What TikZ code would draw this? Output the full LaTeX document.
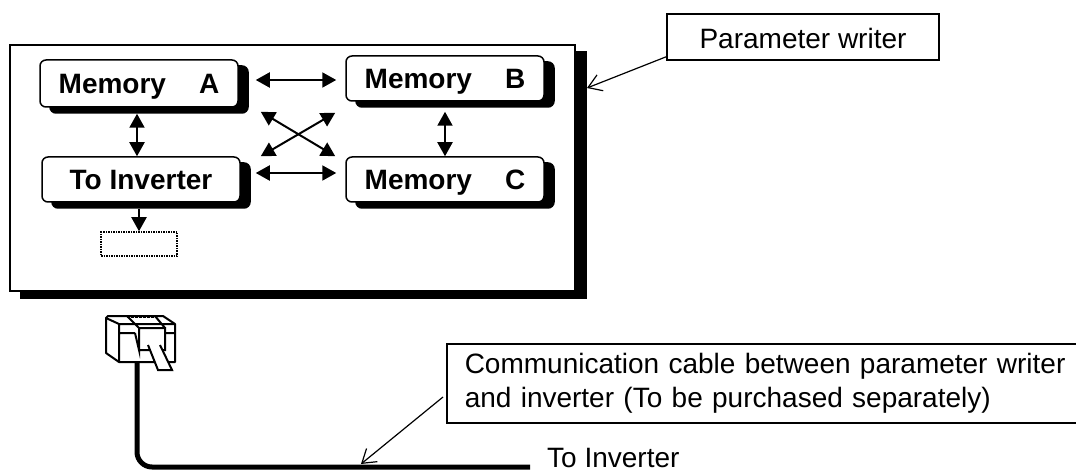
\documentclass[tikz,border=0pt]{standalone}
\usepackage{fontspec}
\setmainfont{Liberation Sans}
\usetikzlibrary{arrows.meta,shadows}
\begin{document}
\begin{tikzpicture}[x=1pt,y=-1pt,
	>={Stealth[length=14pt,width=15pt,inset=0pt]},
	bigbox/.style={draw,line width=1.5pt,fill=white,inner sep=0pt,copy shadow={shadow xshift=11pt,shadow yshift=-7pt,fill=black,draw=black}},
	membox/.style={draw,line width=1.5pt,rounded corners=6pt,fill=white,inner sep=0pt,minimum width=198pt,text height=20pt,text depth=0pt,font=\fontsize{28}{30}\selectfont\bfseries,copy shadow={shadow xshift=10pt,shadow yshift=-6pt,fill=black,draw=black}},
	notebox/.style={draw,line width=1.5pt,fill=white,font=\fontsize{28}{34}\selectfont},
	linkarrow/.style={<->,line width=2pt},
	leader/.style={-{Straight Barb[length=13pt,width=17pt]},line width=1.2pt}]
	\useasboundingbox (0,0) rectangle (1076,473);
	\node[bigbox,minimum width=565pt,minimum height=246pt] (writer) at (292.5,168) {};
	\node[membox,minimum height=47pt] (memA) at (139,83.5) {Memory\hspace{33pt}A};
	\node[membox,minimum height=45pt] (memB) at (445,78.5) {Memory\hspace{33pt}B\hspace{6pt}};
	\node[membox,minimum height=45pt] (memC) at (445,179.5) {Memory\hspace{33pt}C\hspace{6pt}};
	\node[membox,minimum height=45pt] (toinv) at (141,179.5) {To Inverter};
	\node[draw,densely dotted,line width=1.5pt,inner sep=0pt,minimum width=76pt,minimum height=24pt] (slot) at (139,244) {};
	\draw[linkarrow] ([xshift=17pt,yshift=3.5pt]memA.east) -- ([xshift=-9pt,yshift=-1.5pt]memB.west);
	\draw[linkarrow] ([xshift=15pt,yshift=6.5pt]toinv.east) -- ([xshift=-9pt,yshift=6.5pt]memC.west);
	\draw[linkarrow] ([xshift=22pt,yshift=-4pt]memA.south east) -- ([xshift=-10pt]memC.north west);
	\draw[linkarrow] ([xshift=20pt]toinv.north east) -- ([xshift=-10pt,yshift=-11pt]memB.south west);
	\draw[linkarrow] ([xshift=-2pt,yshift=-6pt]memA.south) -- ([xshift=-4pt]toinv.north);
	\draw[linkarrow] ([yshift=-10pt]memB.south) -- (memC.north);
	\draw[->,line width=2pt] ([xshift=-2pt,yshift=-6pt]toinv.south) -- (slot.north);
	% plug
	\coordinate (plugend) at (137,362);
	\coordinate (cableend) at (530,467);
	\draw[line width=5pt,rounded corners=15pt] (plugend) |- (cableend);
	\draw[line width=2pt,fill=white,line join=round] (108,316) -- (163,316) -- (175,324) -- (175,362) -- (119,362) -- (106,353) -- (106,318) -- cycle;
	\draw[line width=2pt] (106,318) -- (119,324) -- (119,362) (119,324) -- (175,324)
		(127,316) -- (139,328) (155,316) -- (165,328) (119,333) -- (135,333) (165,333) -- (175,333);
	\draw[line width=2pt,fill=white] (135,333) -- (139,350) -- (139,328) -- (165,328) -- (165,350) -- (139,350);
	\draw[line width=2pt,fill=white] (148,345) -- (158,370) -- (172,370) -- (160,345);
	\draw[line width=3pt,densely dotted] (127,316) -- (155,316);
	% labels
	\node[notebox,minimum width=272pt,minimum height=46pt,inner sep=0pt,text height=24pt,text depth=0pt] (paramnote) at (803,37) {Parameter writer};
	\node[notebox,inner xsep=18pt,inner ysep=0pt,text width=625pt,align=left,minimum height=79pt,anchor=west] (cablenote) at (446,383.5) {Communication cable between parameter writer\\and inverter (To be purchased separately)};
	\node[font=\fontsize{28}{30}\selectfont,inner sep=0pt,anchor=west] (invlabel) at (547,458) {To Inverter};
	\coordinate (writertip) at (587,88);
	\coordinate (cabletip) at (361,464);
	\draw[leader] ([yshift=4pt]paramnote.south west) -- (writertip);
	\draw[leader] ([xshift=-3pt,yshift=-13.5pt]cablenote.west) -- (cabletip);
\end{tikzpicture}
\end{document}
